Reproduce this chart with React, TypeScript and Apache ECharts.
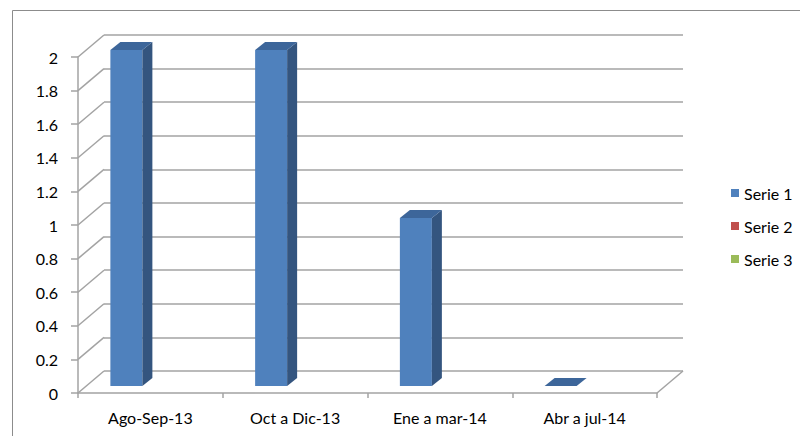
import React, { useEffect, useRef } from "react";
import * as echarts from "echarts";

const categories = ["Ago-Sep-13", "Oct a Dic-13", "Ene a mar-14", "Abr a jul-14"];
const serie1 = [2, 2, 1, 0];
const serie2: number[] = [];
const serie3: number[] = [];
const seriesNames = ["Serie 1", "Serie 2", "Serie 3"];
const yTicks = [0, 0.2, 0.4, 0.6, 0.8, 1, 1.2, 1.4, 1.6, 1.8, 2];

const FONT = "Lato";
const FS = 16;
const DX = 26;
const DY = -22;
const GRID_COLOR = "#a3a3a3";

export default function App() {
  const ref = useRef<HTMLDivElement>(null);
  useEffect(() => {
    if (!ref.current) return;
    const chart = echarts.init(ref.current, undefined, { renderer: "svg" });
    const option: any = {
      animation: false,
      backgroundColor: "#ffffff",
      textStyle: { fontFamily: FONT },
      graphic: [
        {
          type: "rect",
          shape: { x: 12.5, y: 10.5, width: 820, height: 460 },
          style: { fill: "none", stroke: "#8c8c8c", lineWidth: 1 },
          silent: true,
          z: -10,
        },
      ],
      legend: {
        orient: "vertical",
        left: 726,
        top: 180,
        itemWidth: 8,
        itemHeight: 8,
        itemGap: 17,
        textStyle: { fontFamily: FONT, fontSize: FS, color: "#000" },
        data: [
          { name: seriesNames[0], icon: "rect" },
          { name: seriesNames[1], icon: "rect" },
          { name: seriesNames[2], icon: "rect" },
        ],
      },
      grid: [
        { left: 78, right: 143, top: 57, bottom: 43, containLabel: false },
        { left: 78 + DX, right: 143 - DX, top: 57 + DY, bottom: 43 - DY, containLabel: false },
      ],
      xAxis: [
        {
          type: "category",
          gridIndex: 0,
          data: categories,
          axisLine: { show: true, lineStyle: { color: GRID_COLOR, width: 1.5 } },
          axisTick: { show: true, length: 5, lineStyle: { color: GRID_COLOR, width: 1.5 } },
          axisLabel: { color: "#000", fontFamily: FONT, fontSize: FS, margin: 16 },
          splitLine: { show: false },
        },
        {
          type: "category",
          gridIndex: 1,
          data: categories,
          show: false,
        },
      ],
      yAxis: [
        {
          type: "value",
          gridIndex: 0,
          min: 0,
          max: 2,
          interval: 0.2,
          axisLine: { show: true, lineStyle: { color: GRID_COLOR, width: 1.5 } },
          axisTick: { show: true, length: 7, lineStyle: { color: GRID_COLOR, width: 1.5 } },
          axisLabel: { color: "#000", fontFamily: FONT, fontSize: FS, margin: 20 },
          splitLine: { show: false },
        },
        {
          type: "value",
          gridIndex: 1,
          min: 0,
          max: 2,
          interval: 0.2,
          axisLine: { show: false },
          axisTick: { show: false },
          axisLabel: { show: false },
          splitLine: { show: true, lineStyle: { color: GRID_COLOR, width: 1.5 } },
        },
      ],
      series: [
        {
          type: "custom",
          name: "diagonals",
          xAxisIndex: 0,
          yAxisIndex: 0,
          silent: true,
          z: 1,
          data: yTicks.map((v) => [0, v]),
          renderItem: (params: any, api: any) => {
            const cs = params.coordSys;
            const v = api.value(1);
            const y = api.coord([0, v])[1];
            const style = { stroke: GRID_COLOR, lineWidth: 1.5, fill: "none" };
            const children: any[] = [
              { type: "line", shape: { x1: cs.x, y1: y, x2: cs.x + DX, y2: y + DY }, style },
            ];
            if (v === 0) {
              children.push({
                type: "line",
                shape: { x1: cs.x + cs.width, y1: y, x2: cs.x + cs.width + DX, y2: y + DY },
                style,
              });
            }
            return { type: "group", children };
          },
        },
        {
          type: "custom",
          name: seriesNames[0],
          xAxisIndex: 0,
          yAxisIndex: 0,
          z: 5,
          itemStyle: { color: "#4F81BD" },
          data: serie1.map((v, i) => [i, v]),
          renderItem: (params: any, api: any) => {
            const i = api.value(0);
            const v = api.value(1);
            const base = api.coord([i, 0]);
            const top = api.coord([i, v]);
            const left = base[0] - 40;
            const right = left + 32;
            const bY = base[1] - 7;
            const tY = top[1] - 7;
            const sx = 10;
            const sy = -8;
            const children: any[] = [];
            if (bY - tY > 0.5) {
              children.push({
                type: "rect",
                shape: { x: left, y: tY, width: 32, height: bY - tY },
                style: { fill: "#4F81BD" },
              });
              children.push({
                type: "polygon",
                shape: {
                  points: [
                    [right, tY],
                    [right + sx, tY + sy],
                    [right + sx, bY + sy],
                    [right, bY],
                  ],
                },
                style: { fill: "#34557F" },
              });
            }
            children.push({
              type: "polygon",
              shape: {
                points: [
                  [left, tY],
                  [left + sx, tY + sy],
                  [right + sx, tY + sy],
                  [right, tY],
                ],
              },
              style: { fill: "#3D669A" },
            });
            return { type: "group", children };
          },
        },
        {
          type: "bar",
          name: seriesNames[1],
          xAxisIndex: 0,
          yAxisIndex: 0,
          itemStyle: { color: "#C0504D" },
          data: serie2,
        },
        {
          type: "bar",
          name: seriesNames[2],
          xAxisIndex: 0,
          yAxisIndex: 0,
          itemStyle: { color: "#9BBB59" },
          data: serie3,
        },
      ],
    };
    chart.setOption(option);
    return () => chart.dispose();
  }, []);
  return (
    <div
      ref={ref}
      style={{ position: "fixed", left: 0, top: 0, width: 800, height: 436, background: "#fff" }}
    />
  );
}
